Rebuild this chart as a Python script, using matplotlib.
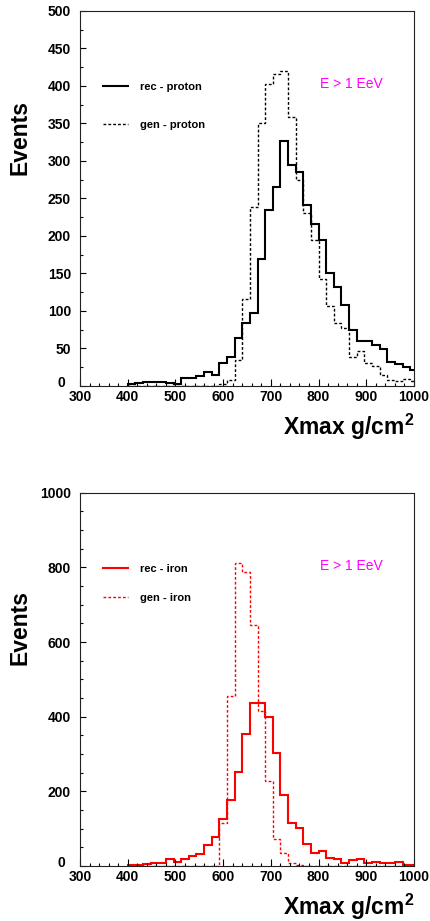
import numpy as np
import matplotlib
matplotlib.use("Agg")
import matplotlib.pyplot as plt
import matplotlib.transforms as mtransforms
from matplotlib.ticker import MultipleLocator

plt.rcParams["font.family"] = ["Liberation Sans", "DejaVu Sans"]
plt.rcParams["mathtext.fontset"] = "custom"
plt.rcParams["mathtext.rm"] = "Liberation Sans"
plt.rcParams["mathtext.bf"] = "Liberation Sans:bold"

# bin edges (g/cm^2), 16 g/cm^2 bins
edges = np.arange(400, 1008 + 1, 16)

rec_proton = [3, 4, 5, 5, 5, 4, 2, 10, 10, 13,
              18, 14, 30, 38, 64, 84, 97, 169, 235, 265,
              326, 295, 285, 241, 216, 195, 150, 132, 108, 74,
              60, 60, 55, 49, 32, 29, 25, 21]
gen_proton = [0, 0, 0, 0, 0, 0, 0, 0, 0, 0,
              0, 0, 2, 8, 35, 116, 238, 350, 402, 416,
              420, 359, 275, 230, 194, 142, 106, 84, 77, 39,
              46, 30, 26, 15, 8, 7, 9, 7]
rec_iron = [2, 4, 5, 7, 7, 18, 12, 18, 28, 33,
            55, 78, 125, 177, 251, 355, 438, 438, 399, 303,
            190, 116, 102, 58, 34, 40, 22, 20, 9, 15,
            20, 7, 12, 9, 9, 12, 4, 2]
gen_iron = [0, 0, 0, 0, 0, 0, 0, 0, 0, 0,
            0, 0, 114, 455, 811, 787, 647, 416, 227, 73,
            36, 7, 2, 0, 0, 0, 0, 0, 0, 0,
            0, 0, 0, 0, 0, 0, 0, 0]

panels = [
    dict(rec=rec_proton, gen=gen_proton, color="black",
         labels=("rec - proton", "gen - proton"), ymax=500,
         ymajor=50, yminor=25, rect=[0.1856, 0.5809, 0.775, 0.4072],
         spacing=2.47, ylab_y=0.663),
    dict(rec=rec_iron, gen=gen_iron, color="#ff0000",
         labels=("rec - iron", "gen - iron"), ymax=1000,
         ymajor=200, yminor=50, rect=[0.1856, 0.0597, 0.775, 0.4053],
         spacing=1.75, ylab_y=0.639),
]

fig = plt.figure(figsize=(4.31, 9.21), dpi=100)
axes = []

for p in panels:
    ax = fig.add_axes(p["rect"])
    axes.append(ax)
    ax.stairs(p["rec"], edges, color=p["color"], lw=1.5,
              label=p["labels"][0])
    ax.stairs(p["gen"], edges, color=p["color"], lw=1.0,
              linestyle=(0, (2, 1.5)), label=p["labels"][1])

    ax.set_xlim(300, 1000)
    ax.set_ylim(0, p["ymax"])
    ax.xaxis.set_major_locator(MultipleLocator(100))
    ax.xaxis.set_minor_locator(MultipleLocator(20))
    ax.yaxis.set_major_locator(MultipleLocator(p["ymajor"]))
    ax.yaxis.set_minor_locator(MultipleLocator(p["yminor"]))
    ax.tick_params(which="both", direction="in", top=False, right=False,
                   width=0.8, labelsize=10, colors="black")
    ax.tick_params(axis="x", which="major", length=5, pad=3)
    ax.tick_params(axis="x", which="minor", length=2.5)
    ax.tick_params(axis="y", which="major", length=4.3, pad=6.5)
    ax.tick_params(axis="y", which="minor", length=2.2)
    for s in ax.spines.values():
        s.set_linewidth(0.8)
        s.set_color("#222222")

    ax.set_xlabel(r"Xmax g/cm$^{\mathbf{2}}$", fontsize=16.5,
                  fontweight="bold", loc="right", labelpad=5.5)
    ax.set_ylabel("Events", fontsize=16.5, fontweight="bold")
    ax.yaxis.set_label_coords(-0.144, p["ylab_y"])

    leg = ax.legend(loc="upper left", bbox_to_anchor=(0.068, 0.81),
                    frameon=False, fontsize=8, handlelength=2.3,
                    handletextpad=1.05, labelspacing=p["spacing"],
                    borderpad=0, borderaxespad=0)
    for t in leg.get_texts():
        t.set_fontweight("bold")

    ax.text(0.813, 0.805, "E > 1 EeV", transform=ax.transAxes,
            color="#ff00ff", fontsize=10, ha="center", va="center")

# ROOT style: the "0" on the y axis sits a little up and to the left
fig.canvas.draw()
for ax in axes:
    for tick in ax.xaxis.get_major_ticks() + ax.yaxis.get_major_ticks():
        tick.label1.set_fontweight("bold")
    for tick in ax.yaxis.get_major_ticks():
        if tick.get_loc() == 0:
            tick.label1.set_transform(
                tick.label1.get_transform()
                + mtransforms.ScaledTranslation(-4 / 72, 3.5 / 72,
                                                fig.dpi_scale_trans))

fig.savefig("out.png", dpi=100)
